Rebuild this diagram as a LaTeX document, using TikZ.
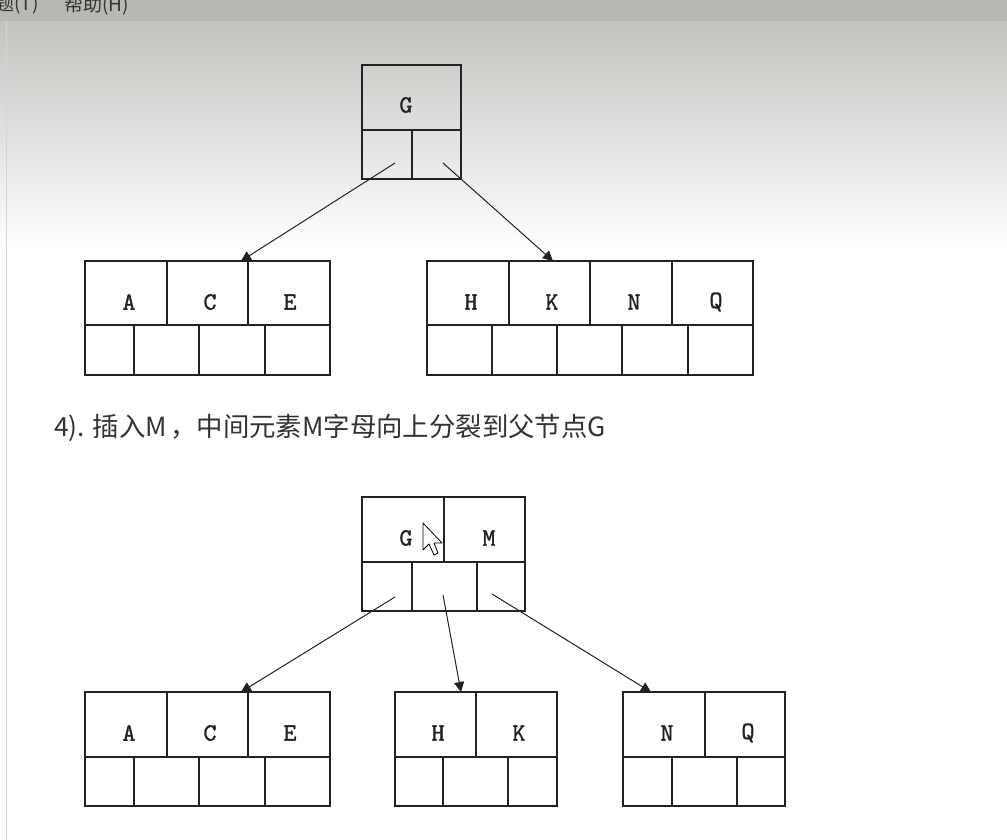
\documentclass[tikz,border=0pt]{standalone}
\usepackage{fontspec}
\newfontfamily\cjk{Noto Sans CJK SC}
\newfontfamily\mono[FakeBold=1.2]{lmmono10-regular.otf}
\usetikzlibrary{arrows.meta}
\definecolor{menubar}{HTML}{B8B9B5}
\definecolor{gradtop}{HTML}{C3C4C0}
\definecolor{ink}{HTML}{222222}
\definecolor{txt}{HTML}{333333}
\definecolor{edge}{HTML}{D4D4D4}
\begin{document}
\begin{tikzpicture}[x=1pt,y=-1pt,
  box/.style={draw=ink,line width=1.4pt,inner sep=0pt,outer sep=0pt,anchor=north west},
  grid/.style={draw=ink,line width=1.3pt},
  key/.style={font=\mono\fontsize{25}{25}\selectfont,text=ink,inner sep=0pt},
  link/.style={draw=ink,line width=1pt,-{Triangle[length=10pt,width=10pt]}},
  menu/.style={font=\cjk\fontsize{19}{19}\selectfont,text=black!80,inner sep=0pt,anchor=west},
]
% background
\useasboundingbox (0,0) rectangle (1007,840);
\fill[white] (0,0) rectangle (1007,840);
\shade[top color=gradtop,bottom color=white] (0,21) rectangle (1007,250);
\fill[menubar] (0,0) rectangle (1007,21);
\draw[edge,line width=1pt] (6,21) -- (6,840);
\node[menu] (m1) at (-5,5) {题(T)};
\node[menu] (m2) at (64,5) {帮助(H)};

% ===== top tree =====
\node[box,minimum width=99pt,minimum height=114pt] (gtop) at (362,65) {};
\draw[grid] (362,130) -- (461,130) (412,130) -- (412,179);
\node[key] (gtopG) at (406,105) {G};

\node[box,minimum width=245pt,minimum height=114pt] (acetop) at (85,261) {};
\draw[grid] (85,325) -- (330,325)
  (167,261) -- (167,325) (248,261) -- (248,325)
  (134,325) -- (134,375) (199,325) -- (199,375) (265,325) -- (265,375);
\node[key] (a1) at (129,302) {A};
\node[key] (c1) at (210,302) {C};
\node[key] (e1) at (290,302) {E};

\node[box,minimum width=326pt,minimum height=114pt] (hknq) at (427,261) {};
\draw[grid] (427,325) -- (753,325)
  (509,261) -- (509,325) (590,261) -- (590,325) (672,261) -- (672,325)
  (492,325) -- (492,375) (557,325) -- (557,375) (622,325) -- (622,375) (688,325) -- (688,375);
\node[key] (h1) at (471,302) {H};
\node[key] (k1) at (552,302) {K};
\node[key] (n1) at (634,302) {N};
\node[key] (q1) at (716,302) {Q};

\coordinate (gs1) at (395,163);
\coordinate (gs2) at (443,163);
\coordinate (acet1) at (241,261);
\coordinate (hknqt) at (553,261);
\draw[link] (gs1) -- (acet1);
\draw[link] (gs2) -- (hknqt);

% caption
\node[font=\cjk\fontsize{26.4}{26.4}\selectfont,text=txt,anchor=west,inner sep=0pt] (cap) at (54,428) {4). 插入M\hspace{3pt}，中间元素M字母向上分裂到父节点G};

% ===== bottom tree =====
\node[box,minimum width=163pt,minimum height=114pt] (gm) at (362,497) {};
\draw[grid] (362,562) -- (525,562) (444,497) -- (444,562)
  (412,562) -- (412,611) (477,562) -- (477,611);
\node[key] (gmG) at (406,538) {G};
\node[key] (gmM) at (489,538) {M};

\node[box,minimum width=245pt,minimum height=114pt] (ace2) at (85,692) {};
\draw[grid] (85,757) -- (330,757)
  (167,692) -- (167,757) (248,692) -- (248,757)
  (134,757) -- (134,806) (199,757) -- (199,806) (265,757) -- (265,806);
\node[key] (a2) at (129,733) {A};
\node[key] (c2) at (210,733) {C};
\node[key] (e2) at (290,733) {E};

\node[box,minimum width=162pt,minimum height=114pt] (hk) at (395,692) {};
\draw[grid] (395,757) -- (557,757) (476,692) -- (476,757)
  (443,757) -- (443,806) (508,757) -- (508,806);
\node[key] (h2) at (438,733) {H};
\node[key] (k2) at (519,733) {K};

\node[box,minimum width=162pt,minimum height=114pt] (nq) at (623,692) {};
\draw[grid] (623,757) -- (785,757) (705,692) -- (705,757)
  (672,757) -- (672,806) (737,757) -- (737,806);
\node[key] (n2) at (667,733) {N};
\node[key] (q2) at (748,733) {Q};

\coordinate (ms1) at (395,597);
\coordinate (ms2) at (443,595);
\coordinate (ms3) at (492,594);
\coordinate (acet2) at (241,692);
\coordinate (hkt) at (461,692);
\coordinate (nqt) at (651,692);
\draw[link] (ms1) -- (acet2);
\draw[link] (ms2) -- (hkt);
\draw[link] (ms3) -- (nqt);

% mouse cursor
\draw[fill=white,draw=black,line width=0.8pt,line join=round]
  (423,523) -- (423,550) -- (429,544) -- (434,555) -- (438,553) -- (434,543) -- (442,543) -- cycle;
\end{tikzpicture}
\end{document}
